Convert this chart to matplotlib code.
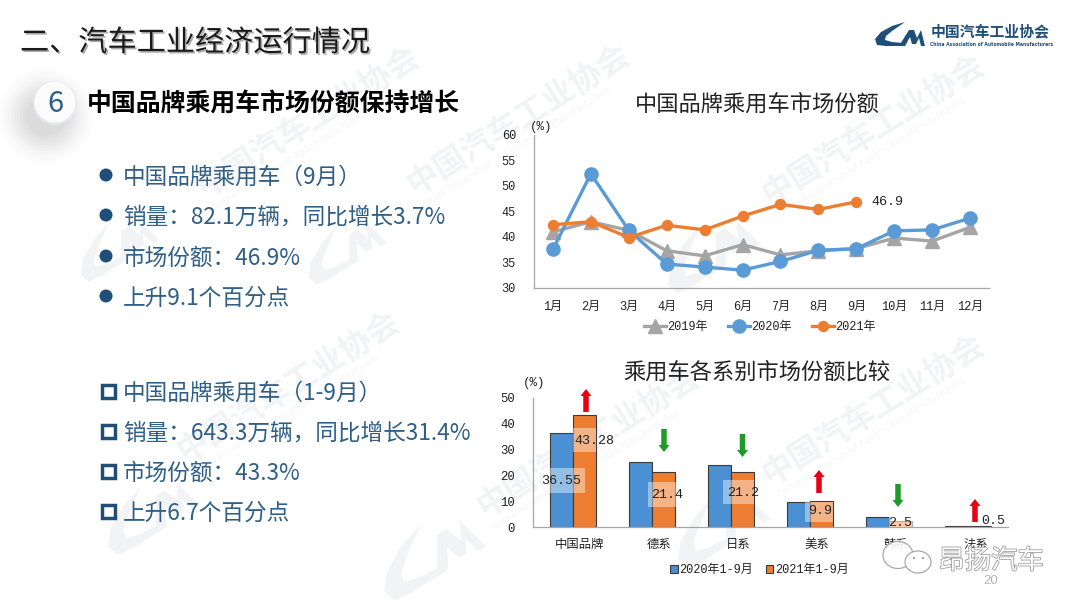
import matplotlib
matplotlib.use("Agg")
import matplotlib.pyplot as plt
import matplotlib.patheffects as pe
from matplotlib.patches import Circle, Rectangle, Polygon, FancyArrow, Ellipse
from matplotlib.transforms import Affine2D, IdentityTransform
import numpy as np

W, H = 1080, 608
SANS = ['Noto Sans CJK SC', 'DejaVu Sans']
MONO = ['Liberation Mono', 'Noto Sans CJK SC', 'DejaVu Sans']
plt.rcParams['font.family'] = SANS

# ---------- data ----------
months = ['1月', '2月', '3月', '4月', '5月', '6月', '7月', '8月', '9月', '10月', '11月', '12月']
share_2019 = [41.0, 43.0, 41.3, 37.3, 36.3, 38.5, 36.5, 37.3, 37.7, 39.8, 39.2, 41.9]
share_2020 = [37.6, 52.4, 41.3, 34.7, 34.1, 33.5, 35.2, 37.4, 37.7, 41.2, 41.4, 43.7]
share_2021 = [42.4, 43.0, 39.9, 42.3, 41.4, 44.1, 46.4, 45.4, 46.9]
line_ticks = [30, 35, 40, 45, 50, 55, 60]

brands = ['中国品牌', '德系', '日系', '美系', '韩系', '法系']
ytd_2020 = [36.55, 25.3, 24.0, 9.6, 3.8, 0.3]
ytd_2021 = [43.28, 21.4, 21.2, 9.9, 2.5, 0.5]
bar_ticks = [0, 10, 20, 30, 40, 50]
shown_2020 = ['36.55', None, None, None, None, None]
shown_2021 = ['43.28', '21.4', '21.2', '9.9', '2.5', '0.5']

bullets_round = ['中国品牌乘用车（9月）', '销量：82.1万辆，同比增长3.7%', '市场份额：46.9%', '上升9.1个百分点']
bullets_square = ['中国品牌乘用车（1-9月）', '销量：643.3万辆，同比增长31.4%', '市场份额：43.3%', '上升6.7个百分点']

# ---------- helpers ----------
fig = plt.figure(figsize=(W / 100, H / 100), dpi=100, facecolor='white')


def px_axes(x0, y0, x1, y1, z=1):
    a = fig.add_axes([x0 / W, 1 - y1 / H, (x1 - x0) / W, (y1 - y0) / H], zorder=z)
    a.patch.set_alpha(0)
    return a


NAVY = '#1F4E79'
TEXTBLUE = '#2F5F86'
GRID = '#A6A6A6'
INK = '#222222'

LOGO_C = [(905, 22), (892, 26), (881, 32), (875, 39), (877, 45), (886, 46), (903, 46),
          (904, 43), (892, 42), (885, 40), (886, 36), (892, 31)]
LOGO_M = [(899, 46), (909, 30), (914, 30), (917, 38), (921, 30), (925, 46), (921, 46),
          (919, 38), (916, 44), (912, 44), (910, 37), (905, 46)]

# ---------- background ----------
bg = fig.add_axes([0, 0, 1, 1], zorder=0)
bg.set_xlim(0, W)
bg.set_ylim(H, 0)
bg.axis('off')

WM = '#F2F3F5'
for (x, y) in [(200, 190), (410, 188), (765, 198), (180, 455), (480, 510), (765, 478)]:
    bg.text(x, y, '中国汽车工业协会', fontsize=23, fontweight='bold', color=WM,
            rotation=32, rotation_mode='anchor', ha='left', va='center')
    bg.text(x + 14, y + 18, 'China Association of Automobile Manufacturers', fontsize=6.6, color='#F4F5F6',
            rotation=32, rotation_mode='anchor', ha='left', va='center', family='DejaVu Sans')
for (cx, cy, s) in [(112, 245, 1.7), (340, 248, 1.7), (705, 250, 2.0), (145, 512, 2.0), (425, 553, 2.2), (715, 525, 2.0)]:
    tr = Affine2D().translate(-900, -34).scale(s).rotate_deg(-32).translate(cx, cy) + bg.transData
    bg.add_patch(Polygon(LOGO_C, fc=WM, ec='none', transform=tr))
    bg.add_patch(Polygon(LOGO_M, fc=WM, ec='none', transform=tr))

# soft shadow of the number badge
for r, a in zip(np.arange(50, 18, -3), np.linspace(0.006, 0.045, 11)):
    bg.add_patch(Circle((46, 116), r, fc='#808080', ec='none', alpha=a))
bg.add_patch(Circle((55, 103), 22, fc='#E6E8EC', ec='none'))
bg.add_patch(Circle((55, 102), 20.5, fc='#FBFBFC', ec='none'))
bg.text(55, 104, '6', fontsize=21, color=TEXTBLUE, ha='center', va='center')

# titles
bg.text(20, 43, '二、汽车工业经济运行情况', fontsize=21, color='#1A1A1A', va='center',
        path_effects=[pe.withSimplePatchShadow(offset=(1.2, -1.2), shadow_rgbFace='#777777', alpha=0.6)])
bg.text(87, 105, '中国品牌乘用车市场份额保持增长', fontsize=17.9, fontweight='bold', color='black', va='center')

# bullet lists
for y, s in zip([175, 215, 256, 296], bullets_round):
    bg.add_patch(Circle((106, y), 6.5, fc=NAVY, ec='none'))
    bg.text(123, y + 2, s, fontsize=16.3, color=TEXTBLUE, va='center')
for y, s in zip([391, 431, 471, 511], bullets_square):
    bg.add_patch(Rectangle((101.5, y - 6.5), 13, 13, fc='white', ec=NAVY, lw=2.5))
    bg.text(123, y + 2, s, fontsize=16.3, color=TEXTBLUE, va='center')

# association logo
bg.add_patch(Polygon(LOGO_C, fc=NAVY, ec='none'))
bg.add_patch(Polygon(LOGO_M, fc=NAVY, ec='none'))
bg.text(931, 31, '中国汽车工业协会', fontsize=10.7, fontweight='bold', color=NAVY, va='center')
bg.text(930, 45, 'China Association of Automobile Manufacturers', fontsize=3.25, fontweight='bold',
        color=NAVY, va='center', family='DejaVu Sans')

# chart titles
bg.text(757, 104, '中国品牌乘用车市场份额', fontsize=16, color=INK, ha='center', va='center')
bg.text(757, 372, '乘用车各系别市场份额比较', fontsize=16, fontweight='medium', color=INK,
        ha='center', va='center')

# ---------- line chart ----------
ax = px_axes(534, 135, 989, 288, 2)
x = np.arange(len(months))
ax.plot(x, share_2019, color='#A5A5A5', lw=2.4, marker='^', ms=10, label='2019年')
ax.plot(x, share_2020, color='#5B9BD5', lw=2.4, marker='o', ms=9.5, label='2020年')
ax.plot(np.arange(len(share_2021)), share_2021, color='#ED7D31', lw=2.4, marker='o', ms=7.2, label='2021年')
ax.set_xlim(-0.5, len(months) - 0.5)
ax.set_ylim(30, 60)
ax.set_yticks(line_ticks)
ax.set_xticks(x, months)
for s in ['top', 'right']:
    ax.spines[s].set_visible(False)
for s in ['left', 'bottom']:
    ax.spines[s].set_color(GRID)
    ax.spines[s].set_linewidth(0.9)
ax.tick_params(length=0)
ax.tick_params(axis='y', pad=13)
ax.tick_params(axis='x', pad=9.5)
for t in ax.get_xticklabels() + ax.get_yticklabels():
    t.set_family(MONO)
    t.set_fontsize(8.6)
    t.set_color(INK)
ax.annotate('46.9', (8, share_2021[8]), xytext=(11, 0), textcoords='offset points', va='center',
            family=MONO, fontsize=9.6, color=INK)
ax.legend(loc='upper center', bbox_to_anchor=(0.497, -0.145), ncol=3, frameon=False,
          prop={'family': MONO, 'size': 8.6}, handlelength=1.8, columnspacing=1.7, handletextpad=0.15,
          labelcolor=INK)

# ---------- bar chart ----------
ax2 = px_axes(533, 398, 1008, 527, 2)
xb = np.arange(len(brands))
bw = 0.29
ax2.bar(xb - bw / 2, ytd_2020, bw, color='#4A90D2', edgecolor='#3A3A3A', lw=0.8, label='2020年1-9月')
ax2.bar(xb + bw / 2, ytd_2021, bw, color='#ED7D31', edgecolor='#3A3A3A', lw=0.8, label='2021年1-9月')
ax2.set_xlim(-0.5, len(brands) - 0.5)
ax2.set_ylim(0, 50)
ax2.set_yticks(bar_ticks)
ax2.set_xticks(xb + 0.09, brands)
for s in ['top', 'right']:
    ax2.spines[s].set_visible(False)
for s in ['left', 'bottom']:
    ax2.spines[s].set_color(GRID)
    ax2.spines[s].set_linewidth(0.9)
ax2.tick_params(length=0)
ax2.tick_params(axis='y', pad=13)
ax2.tick_params(axis='x', pad=8.5)
for t in ax2.get_xticklabels() + ax2.get_yticklabels():
    t.set_family(MONO)
    t.set_fontsize(8.9)
    t.set_color(INK)
ax2.legend(loc='upper center', bbox_to_anchor=(0.477, -0.205), ncol=2, frameon=False,
           prop={'family': MONO, 'size': 8.6}, handlelength=0.6, handleheight=0.75, columnspacing=1.1,
           handletextpad=0.15, labelcolor=INK)

# translucent white boxes behind the data labels
for (x0, y0, x1, y1, al) in [(550, 468, 585, 493, 0.42), (573, 428, 596, 452, 0.42), (648, 482, 676, 507, 0.42),
                             (723, 480, 754, 504, 0.42), (805, 502, 833, 522, 0.42), (889, 514, 913, 527, 0.6)]:
    ax2.add_patch(Rectangle((x0, H - y1), x1 - x0, y1 - y0, transform=IdentityTransform(),
                            fc='white', ec='none', alpha=al, zorder=4, clip_on=False))

ax2.text(0 - 0.14, 18.0, shown_2020[0], family=MONO, fontsize=9.6, ha='center', va='center', color=INK, zorder=5)
label_dx = [0.28, 0.19, 0.15, 0.13, 0.14, 0.32]
label_y = [33.4, 12.4, 13.2, 6.2, 1.7, 2.4]
for i, s in enumerate(shown_2021):
    ax2.text(i + label_dx[i], label_y[i], s, family=MONO, fontsize=9.6, ha='center', va='center',
             color=INK, zorder=5)

# ---------- overlay ----------
ov = fig.add_axes([0, 0, 1, 1], zorder=3)
ov.patch.set_alpha(0)
ov.set_xlim(0, W)
ov.set_ylim(H, 0)
ov.axis('off')

ov.text(541, 127, '(%)', family=MONO, fontsize=9, color=INK, ha='center', va='center')
ov.text(534, 383, '(%)', family=MONO, fontsize=9, color=INK, ha='center', va='center')

RED, GREEN = '#E60012', '#1E9A28'
for ax_, y0, y1, c in [(586, 412, 389, RED), (664, 429, 452, GREEN), (742.5, 434, 457, GREEN),
                       (819, 493, 470, RED), (898, 484, 507, GREEN), (975, 522, 499, RED)]:
    ov.add_patch(FancyArrow(ax_, y0, 0, y1 - y0, width=5.5, head_width=11, head_length=7,
                            length_includes_head=True, fc=c, ec='none'))

# WeChat stamp
ov.add_patch(Ellipse((905, 556), 52, 32, fc='white', ec='none', alpha=0.9))
ov.add_patch(Ellipse((898, 555), 30, 27, fc='none', ec='#A8A8A8', lw=0.9))
ov.add_patch(Ellipse((918, 562), 26, 22, fc='white', ec='#A8A8A8', lw=0.9))
ov.add_patch(Circle((914, 558), 1.2, fc='#A0A0A0', ec='none'))
ov.add_patch(Circle((923, 558), 1.2, fc='#A0A0A0', ec='none'))
ov.text(991, 561, '昂扬汽车', fontsize=19, color='white', ha='center', va='center',
        path_effects=[pe.withStroke(linewidth=1.1, foreground='#979797')])
ov.text(991, 581, '20', fontsize=9.5, color='#B5B5B5', ha='center', va='center', family='Liberation Sans')

fig.savefig('out.png', dpi=100)
